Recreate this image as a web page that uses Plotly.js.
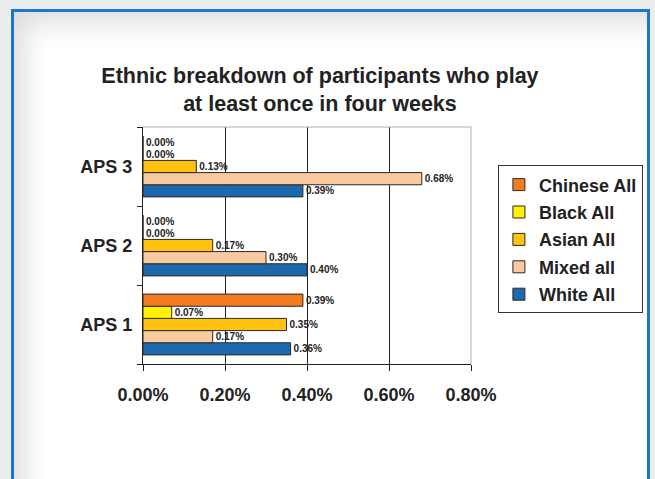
<!DOCTYPE html>
<html>
<head>
<meta charset="utf-8">
<script src="https://cdn.plot.ly/plotly-3.0.1.min.js"></script>
<style>
  html, body { margin: 0; padding: 0; background: #eceeee; width: 655px; height: 479px; overflow: hidden; }
  #frame { position: absolute; left: 11px; top: 9px; width: 633px; height: 480px;
           border: 3px solid #1b78c9; border-bottom: none; background: #ffffff;
           box-shadow: inset 26px 26px 28px -16px rgba(0,0,0,0.14); }
  #chart { position: absolute; left: 0; top: 0; width: 655px; height: 479px; }
</style>
</head>
<body>
<div id="frame"></div>
<div id="chart"></div>
<script>
// Categories (bottom to top on the axis)
const categories = ['APS 1', 'APS 2', 'APS 3'];

// Series values, in percent
const whiteAll   = [0.36, 0.40, 0.39];
const mixedAll   = [0.17, 0.30, 0.68];
const asianAll   = [0.35, 0.17, 0.13];
const blackAll   = [0.07, 0.00, 0.00];
const chineseAll = [0.39, 0.00, 0.00];

const seriesNames  = ['White All', 'Mixed all', 'Asian All', 'Black All', 'Chinese All'];
const seriesValues = [whiteAll, mixedAll, asianAll, blackAll, chineseAll];
const seriesColors = ['#1c69ae', '#fbc9a0', '#ffc20e', '#fff200', '#f47b20'];
const legendRanks  = [5, 4, 3, 2, 1];

const FONT = 'Arial, "Liberation Sans", sans-serif';

const traces = seriesNames.map((name, i) => ({
  type: 'bar',
  orientation: 'h',
  name: name,
  legendgroup: name,
  legendrank: legendRanks[i],
  y: categories,
  x: seriesValues[i],
  marker: { color: seriesColors[i], line: { color: '#2a2a2a', width: 1 } },
  texttemplate: '%{x:.2f}%',
  textposition: 'outside',
  constraintext: 'none',
  cliponaxis: false,
  textfont: { family: FONT, size: 10, color: '#222', weight: 'bold' },
  hoverinfo: 'skip'
}));

const layout = {
  width: 655,
  height: 479,
  paper_bgcolor: 'rgba(0,0,0,0)',
  plot_bgcolor: 'rgba(0,0,0,0)',
  margin: { l: 143, r: 181, t: 127, b: 115, pad: 0 },
  font: { family: FONT, color: '#222' },
  title: {
    text: 'Ethnic breakdown of participants who play<br>at least once in four weeks',
    font: { family: FONT, size: 21.5, color: '#222', weight: 'bold' },
    x: 0.4885, xanchor: 'center', xref: 'container',
    y: 0.826, yanchor: 'top', yref: 'container'
  },
  barmode: 'group',
  bargap: 0.23,
  bargroupgap: 0,
  showlegend: true,
  legend: {
    x: 1.082, xanchor: 'left', y: 0.838, yanchor: 'top',
    traceorder: 'grouped',
    tracegroupgap: 1,
    bgcolor: '#ffffff',
    bordercolor: '#333',
    borderwidth: 1,
    font: { family: FONT, size: 18, color: '#222', weight: 'bold' }
  },
  xaxis: {
    range: [0, 0.8],
    tick0: 0, dtick: 0.2,
    tickformat: '.2f', ticksuffix: '%',
    showgrid: true, gridcolor: '#222', gridwidth: 1,
    zeroline: false,
    showline: true, linecolor: '#222', linewidth: 1,
    ticks: 'outside', ticklen: 6, tickcolor: '#222',
    ticklabelstandoff: 8,
    tickfont: { family: FONT, size: 18, color: '#222', weight: 'bold' },
    fixedrange: true
  },
  yaxis: {
    type: 'category',
    categoryorder: 'array', categoryarray: categories,
    tickson: 'boundaries',
    showgrid: false, zeroline: false,
    showline: true, linecolor: '#222', linewidth: 1,
    ticks: 'outside', ticklen: 5, tickcolor: '#222',
    ticklabelstandoff: 6,
    tickfont: { family: FONT, size: 18, color: '#222', weight: 'bold' },
    fixedrange: true
  },
  shapes: [
    { type: 'line', xref: 'paper', yref: 'paper', x0: 0, x1: 1, y0: 1, y1: 1,
      line: { color: '#b0b0b0', width: 1 }, layer: 'above' },
    { type: 'line', xref: 'paper', yref: 'paper', x0: 1, x1: 1, y0: 0, y1: 1,
      line: { color: '#b0b0b0', width: 1 }, layer: 'above' }
  ]
};

Plotly.newPlot('chart', traces, layout, { displayModeBar: false, staticPlot: true });
</script>
</body>
</html>
